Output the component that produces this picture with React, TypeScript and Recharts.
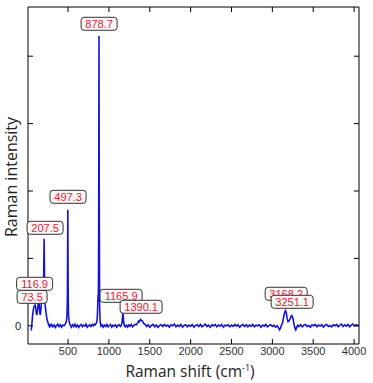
import { LineChart, Line, XAxis, YAxis, ReferenceDot } from "recharts";

// Raman shift (cm-1) and intensity
const SHIFT = [
  50, 58, 66, 74, 82, 90, 97, 104, 110, 116, 122, 128, 134, 140, 146, 152, 158, 164, 170, 176, 182, 188, 194, 199, 203, 207.5, 211, 215, 220, 226, 232, 240, 248, 256, 264, 272, 280, 290,
  300, 315, 330, 345, 360, 375, 390, 405, 420, 435, 450, 462, 472,
  480, 487, 492, 497.3, 501, 505, 512, 520, 530,
  540, 555, 570, 585, 600, 615, 630, 645, 660, 675, 690, 705, 720, 735, 750, 765, 780, 795, 810, 822, 834, 845,
  852, 858, 863, 867, 871, 875, 878.7, 882, 886, 890, 896, 903,
  915, 930, 945, 960, 975, 990, 1005, 1020, 1035, 1050, 1065, 1080, 1095, 1110, 1125, 1140, 1152,
  1160, 1166, 1170, 1175, 1180, 1187,
  1200, 1215, 1230, 1245, 1260, 1275, 1290, 1305, 1320, 1335,
  1350, 1362, 1374, 1386, 1398, 1410, 1422, 1434, 1446,
  1460, 1480, 1500, 1520, 1540, 1560, 1580, 1600, 1620, 1640, 1660, 1680, 1700, 1720, 1740, 1760, 1780, 1800, 1820, 1840, 1860, 1880, 1900, 1920, 1940, 1960, 1980,
  2000, 2020, 2040, 2060, 2080, 2100, 2120, 2140, 2160, 2180, 2200, 2220, 2240, 2260, 2280, 2300, 2320, 2340, 2360, 2380, 2400, 2420, 2440, 2460, 2480,
  2500, 2520, 2540, 2560, 2580, 2600, 2620, 2640, 2660, 2680, 2700, 2720, 2740, 2760, 2780, 2800, 2820, 2840, 2860, 2880, 2900, 2920, 2940, 2960, 2980,
  3000, 3020, 3040, 3060, 3075,
  3088, 3100, 3112, 3124, 3136, 3148, 3160, 3170, 3180, 3192, 3204, 3216, 3228, 3240, 3250, 3262, 3274, 3286, 3298, 3310,
  3325, 3345, 3365, 3385, 3405, 3425, 3445, 3465, 3485, 3505, 3525, 3545, 3565, 3585, 3605, 3625, 3645, 3665, 3685, 3705, 3725, 3745, 3765, 3785, 3805, 3825, 3845, 3865, 3885, 3905, 3925, 3945, 3965, 3985, 4005, 4025, 4045, 4060,
];

const INTENSITY = [
  -70, 40, 150, 230, 280, 300, 310, 270, 210, 160, 180, 240, 320, 370, 330, 240, 160, 190, 280, 350, 380, 360, 330, 420, 900, 1290, 850, 420, 310, 240, 180, 120, 70, 40, 10, -10, 15, -5,
  20, -15, 10, -25, 5, 25, -10, 15, -20, 10, 0, 20, 40,
  70, 150, 400, 1720, 600, 180, 80, 30, 5,
  -20, 15, -10, 25, -15, 10, -25, 5, 20, -15, 10, -5, 25, -20, 0, 15, -10, 20, 0, 25, 15, 40,
  60, 130, 300, 460, 360, 1400, 4300, 1900, 320, 120, 40, -5,
  15, -20, 10, -10, 20, -15, 5, 20, -20, 10, -5, 15, -20, 5, 15, -10, 10,
  40, 120, 190, 150, 60, 10,
  -15, 10, -20, 15, -5, 20, -15, 5, 20, 15,
  40, 70, 60, 95, 80, 70, 40, 25, 20,
  -10, 15, -20, 5, 20, -15, 10, -25, 5, 15, -10, 20, -5, 10, -20, 15, 0, 25, -15, 10, -10, 20, -20, 5, 15, -15, 10,
  -5, 20, -20, 5, 15, -10, 20, -15, 5, 25, -10, 10, -20, 15, 0, 20, -15, 10, -5, 20, -20, 10, 0, 15, -15,
  10, -10, 20, -5, 15, -20, 5, 20, -10, 15, -15, 10, -5, 20, -15, 10, 0, 15, -20, 10, -5, 20, -15, 5, 15,
  -10, 10, -20, 0, -30,
  -60, -30, 10, 40, 120, 190, 225, 200, 110, 60, 70, 100, 140, 150, 120, 40, -30, -60, -20, 10,
  -10, 15, -15, 10, 20, -10, 5, -20, 15, 0, 20, -15, 10, -5, 15, -20, 10, 20, -10, 5, -15, 15, 0, 20, -15, 10, 25, -10, 15, -5, 20, -15, 10, 25, -5, 15, 0, 10,
];

const X_TICKS = [500, 1000, 1500, 2000, 2500, 3000, 3500, 4000];
const Y_TICKS = [0, 1000, 2000, 3000, 4000];

// peak tags: text, and where the tag sits (shift, intensity)
const PEAK_TEXT = ["878.7", "497.3", "207.5", "73.5", "116.9", "1165.9", "1390.1", "3168.2", "3251.1"];
const PEAK_X = [880, 500, 219, 60, 91, 1149, 1394, 3169, 3242];
const PEAK_Y = [4481, 1914, 1454, 430, 623, 445, 282, 475, 356];

const data = SHIFT.map((s, i) => ({ shift: s, intensity: INTENSITY[i] }));

const tickFont = { fontFamily: "Liberation Sans, Arial, sans-serif", fontSize: 11, fill: "#333" };

function PeakTag(props: any) {
  const { cx, cy, text } = props;
  const w = text.length * 6 + 6;
  const h = 13;
  return (
    <g>
      <rect x={cx - w / 2} y={cy - h / 2} width={w} height={h} rx={3} fill="#fff6f6" stroke="#333" strokeWidth={1} />
      <text
        x={cx}
        y={cy + 4}
        textAnchor="middle"
        fontFamily="Liberation Sans, Arial, sans-serif"
        fontSize={11}
        fill="#d81e3c"
      >
        {text}
      </text>
    </g>
  );
}

export default function App() {
  return (
    <div style={{ position: "absolute", left: 0, top: 0, background: "#fff" }}>
      <LineChart width={373} height={383} data={data} margin={{ top: 0, right: 0, bottom: 0, left: 0 }}>
        <XAxis
          dataKey="shift"
          type="number"
          domain={[10, 4060]}
          ticks={X_TICKS}
          allowDataOverflow
          height={39}
          tickSize={-5}
          tickMargin={8}
          stroke="#000"
          tick={tickFont}
          label={{
            content: () => (
              <text x={190} y={377} textAnchor="middle" fontFamily="Open Sans, sans-serif" fontSize={15.5} fill="#222">
                Raman shift (cm
                <tspan fontSize={9} dy={-6}>-1</tspan>
                <tspan dy={6}>)</tspan>
              </text>
            ),
          }}
        />
        <XAxis
          xAxisId="top"
          dataKey="shift"
          type="number"
          orientation="top"
          domain={[10, 4060]}
          ticks={X_TICKS}
          allowDataOverflow
          height={7}
          tickSize={-5}
          tickFormatter={() => ""}
          stroke="#000"
        />
        <YAxis
          type="number"
          domain={[-270, 4730]}
          ticks={Y_TICKS}
          allowDataOverflow
          width={28}
          tickSize={-5}
          tickMargin={12}
          tickFormatter={(v: number) => (v === 0 ? "0" : "")}
          stroke="#000"
          tick={{ ...tickFont, fill: "#222" }}
          label={{
            content: () => (
              <text
                x={17}
                y={177}
                transform="rotate(-90 17 177)"
                textAnchor="middle"
                fontFamily="Open Sans, sans-serif"
                fontSize={16}
                fill="#222"
              >
                Raman intensity
              </text>
            ),
          }}
        />
        <YAxis
          yAxisId="right"
          orientation="right"
          type="number"
          domain={[-270, 4730]}
          ticks={Y_TICKS}
          allowDataOverflow
          width={14}
          tickSize={-5}
          tickFormatter={() => ""}
          stroke="#000"
        />
        <Line
          type="linear"
          dataKey="intensity"
          stroke="#1414d4"
          strokeWidth={1.6}
          dot={false}
          isAnimationActive={false}
        />
        {PEAK_TEXT.map((t, i) => (
          <ReferenceDot
            key={t}
            x={PEAK_X[i]}
            y={PEAK_Y[i]}
            r={0}
            ifOverflow="visible"
            shape={(p: any) => <PeakTag cx={p.cx} cy={p.cy} text={t} />}
          />
        ))}
      </LineChart>
    </div>
  );
}
